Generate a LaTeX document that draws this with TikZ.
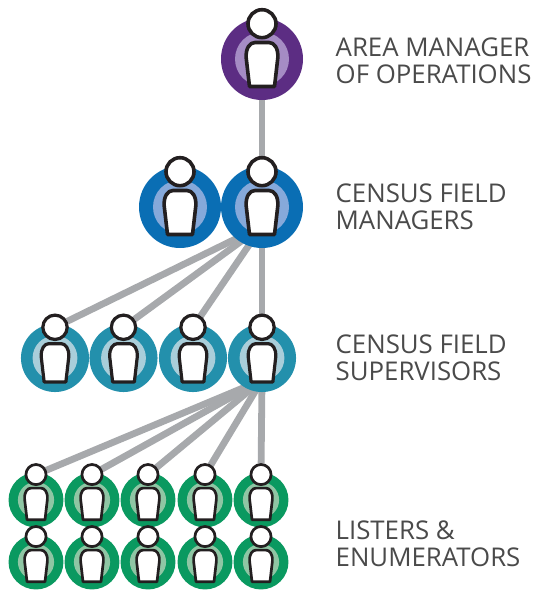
\documentclass[tikz,border=0pt]{standalone}
\usepackage{fontspec}
\setmainfont{Open Sans}
\usetikzlibrary{backgrounds}

\definecolor{linkgray}{HTML}{A7A9AC}
\definecolor{areadark}{HTML}{5C2D83}
\definecolor{arealight}{HTML}{A58CC4}
\definecolor{mgrdark}{HTML}{0A6EB4}
\definecolor{mgrlight}{HTML}{86A9DA}
\definecolor{supdark}{HTML}{2390AC}
\definecolor{suplight}{HTML}{A9CEDA}
\definecolor{lstdark}{HTML}{0A9960}
\definecolor{lstlight}{HTML}{8FC6A4}
\definecolor{labelgray}{HTML}{4A4A4A}
\definecolor{outline}{HTML}{231F20}

\tikzset{
  disc/.style={circle,fill=#1,inner sep=0pt,minimum size=82pt,transform shape},
  ring/.style={circle,fill=#1,inner sep=0pt,minimum size=54pt,transform shape},
  person/.pic={
    \draw[draw=outline,fill=white,line join=round] (-12.5,27.5) -- (-15.8,-1)
      .. controls (-16.5,-11) and (-12,-16.5) .. (-7,-16.5) -- (7,-16.5)
      .. controls (12,-16.5) and (16.5,-11) .. (15.8,-1) -- (12.5,27.5) -- cycle;
    \node[circle,draw=outline,fill=white,inner sep=0pt,minimum size=28pt,transform shape] (head) at (0,-35.3) {};
  },
  link/.style={draw=linkgray,line width=6.8pt},
  level label/.style={anchor=west,align=left,inner sep=0pt,text=labelgray,font=\fontsize{25.8}{26.8}\selectfont}
}

\begin{document}
\begin{tikzpicture}[x=1pt,y=-1pt]
  \useasboundingbox (0,0) rectangle (535,590);

  % area manager
  \node[disc=areadark] (a1) at (262,59) {};
  \node[ring=arealight] at (a1) {};
  \pic[line width=3.6pt] (a1-) at (a1) {person};

  % field managers
  \foreach \i/\x in {1/180,2/262} {
    \node[disc=mgrdark] (m\i) at (\x,207) {};
    \node[ring=mgrlight] at (m\i) {};
    \pic[line width=3.6pt] (m\i-) at (m\i) {person};
  }

  % field supervisors
  \foreach \i/\x in {1/55,2/123.5,3/193,4/262} {
    \node[disc=supdark,scale=.83] (s\i) at (\x,358) {};
    \node[ring=suplight,scale=.83] at (s\i) {};
    \pic[scale=.87,line width=3.2pt] (s\i-) at (s\i) {person};
  }

  % listers, two rows
  \foreach \r/\y in {1/500,2/562} {
    \foreach \i/\x in {1/36,2/92,3/148,4/205,5/261} {
      \node[disc=lstdark,scale=.67] (l\r\i) at (\x,\y) {};
      \node[ring=lstlight,scale=.67] at (l\r\i) {};
      \pic[scale=.72,line width=2.7pt] (l\r\i-) at (l\r\i) {person};
    }
  }

  \coordinate (mhub) at (262,226);
  \coordinate (shub) at (262,380);

  \begin{scope}[on background layer]
    \draw[link] (a1) -- (m2);
    \foreach \i in {1,...,4} \draw[link] (mhub) -- (s\i-head);
    \draw[link] (m2) -- (mhub);
    \draw[link] (s4) -- (shub);
    \foreach \i in {1,...,5} \draw[link] (shub) -- (l1\i-head);
  \end{scope}

  \node[level label] (areatxt) at (335.5,61) {AREA MANAGER\\OF OPERATIONS};
  \node[level label] (mgrtxt) at (335.5,207) {CENSUS FIELD\\MANAGERS};
  \node[level label] (suptxt) at (335.5,358) {CENSUS FIELD\\SUPERVISORS};
  \node[level label] (lsttxt) at (335.5,544) {LISTERS \&\\ENUMERATORS};
\end{tikzpicture}
\end{document}
